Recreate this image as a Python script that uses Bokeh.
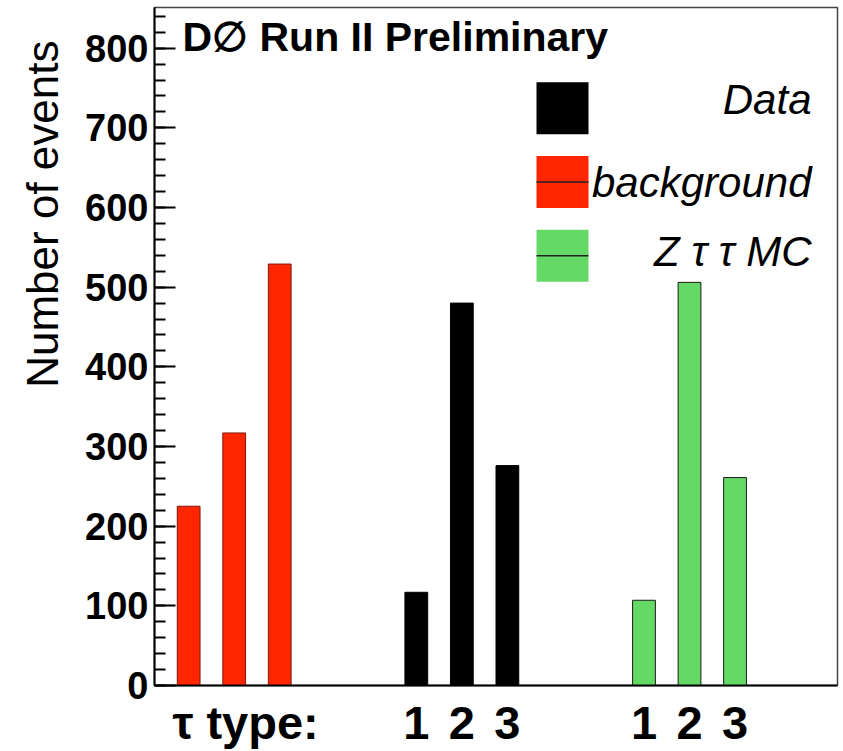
from bokeh.embed import file_html
from bokeh.models import (BoxAnnotation, FixedTicker, Label, Range1d,
                          SingleIntervalTicker, Title)
from bokeh.plotting import figure
from bokeh.resources import INLINE

# Event counts per tau type (1, 2, 3) for each sample
tau_types = [1, 2, 3]
background = [225, 317, 529]
data_counts = [117, 480, 276]
ztautau_mc = [107, 506, 261]

samples = ["background", "Data", "Z \u03c4 \u03c4 MC"]
sample_offsets = [0, 5, 10]

W, H = 843, 751
LEFT, RIGHT, TOP, BOTTOM = 154, 6, 7, 64
X_MAX, Y_MAX = 15.0, 851.0
FRAME_W = W - LEFT - RIGHT
FRAME_H = H - TOP - BOTTOM


def dx(px):
    """Canvas pixel column -> x data coordinate."""
    return (px - LEFT) / FRAME_W * X_MAX


def dy(py):
    """Canvas pixel row -> y data coordinate."""
    return (H - BOTTOM - py) / FRAME_H * Y_MAX


p = figure(
    width=W, height=H,
    x_range=Range1d(0, X_MAX), y_range=Range1d(0, Y_MAX),
    output_backend="svg", toolbar_location=None,
    min_border_left=LEFT, min_border_right=RIGHT,
    min_border_top=TOP, min_border_bottom=BOTTOM,
)
p.grid.visible = False
p.background_fill_color = "white"
p.border_fill_color = "white"
p.outline_line_color = "#444444"
p.outline_line_width = 1.5

# y axis: ticks pointing into the frame
yax = p.yaxis[0]
yax.ticker = SingleIntervalTicker(interval=100, num_minor_ticks=5)
yax.axis_line_width = 2
yax.axis_line_color = "black"
yax.major_tick_in = 21
yax.major_tick_out = 0
yax.minor_tick_in = 11
yax.minor_tick_out = 0
yax.major_tick_line_width = 2
yax.minor_tick_line_width = 2
yax.major_tick_line_color = "black"
yax.minor_tick_line_color = "black"
yax.major_label_text_font = "Liberation Sans"
yax.major_label_text_font_style = "bold"
yax.major_label_text_font_size = "38px"
yax.major_label_text_color = "black"
yax.major_label_standoff = 6

# y axis title, aligned towards the top of the axis
p.add_layout(Title(text="Number of events", align="right", offset=33,
                   standoff=31, text_font="Liberation Sans",
                   text_font_style="normal", text_font_size="44px",
                   text_color="black"), "left")

# x axis: no tick marks, labels name the tau type under each bar
bar_x = {name: [off + t - 0.25 for t in tau_types]
         for name, off in zip(samples, sample_offsets)}
TYPE_LABEL_X = 2.0
tick_pos = [TYPE_LABEL_X] + bar_x["Data"] + bar_x["Z \u03c4 \u03c4 MC"]
overrides = {TYPE_LABEL_X: "\u03c4 type:"}
for name in ("Data", "Z \u03c4 \u03c4 MC"):
    for xpos, t in zip(bar_x[name], tau_types):
        overrides[xpos] = str(t)

xax = p.xaxis[0]
xax.ticker = FixedTicker(ticks=tick_pos, minor_ticks=[])
xax.major_label_overrides = overrides
xax.axis_line_width = 2
xax.axis_line_color = "black"
xax.major_tick_in = 0
xax.major_tick_out = 0
xax.major_tick_line_color = None
xax.minor_tick_line_color = None
xax.major_label_text_font = "Liberation Sans"
xax.major_label_text_font_style = "bold"
xax.major_label_text_font_size = "47px"
xax.major_label_text_color = "black"
xax.major_label_standoff = 10

# bars: one half-unit wide bin per tau type, groups shifted by sample offset
styles = {
    "background": ("#ff2600", "#7a1a10"),
    "Data": ("black", "black"),
    "Z \u03c4 \u03c4 MC": ("#64d966", "#1a1a1a"),
}
series = {"background": background, "Data": data_counts, "Z \u03c4 \u03c4 MC": ztautau_mc}
for name in samples:
    fill, line = styles[name]
    p.vbar(x=bar_x[name], top=series[name], bottom=0, width=0.5,
           fill_color=fill, line_color=line, line_width=1)

# legend: swatch boxes with right-aligned italic labels
legend_rows = [("Data", 82, 17), ("background", 156, 27), ("Z \u03c4 \u03c4 MC", 230, 22)]
SW_L, SW_R, SW_SIZE = 536, 588, 52
for name, top_px, base in legend_rows:
    fill, line = styles[name]
    p.add_layout(BoxAnnotation(left=dx(SW_L), right=dx(SW_R),
                               top=dy(top_px), bottom=dy(top_px + SW_SIZE),
                               fill_color=fill, fill_alpha=1.0,
                               line_color=None, level="underlay"))
    if name != "Data":
        mid = dy(top_px + SW_SIZE / 2)
        p.segment(x0=[dx(SW_L)], x1=[dx(SW_R)], y0=[mid], y1=[mid],
                  line_color="#222222", line_width=1.5)
    p.add_layout(Label(x=dx(811), y=dy(top_px + base), text=name,
                       text_align="right", text_baseline="alphabetic",
                       text_font="Liberation Sans", text_font_style="italic",
                       text_font_size="42px", text_color="black"))

# experiment tag
p.add_layout(Label(x=dx(182), y=dy(37), text="D\u2205 Run II Preliminary",
                   text_align="left", text_baseline="alphabetic",
                   text_font="Liberation Sans", text_font_style="bold",
                   text_font_size="41px", text_color="black"))

open("out.html", "w").write(file_html(p, INLINE))
